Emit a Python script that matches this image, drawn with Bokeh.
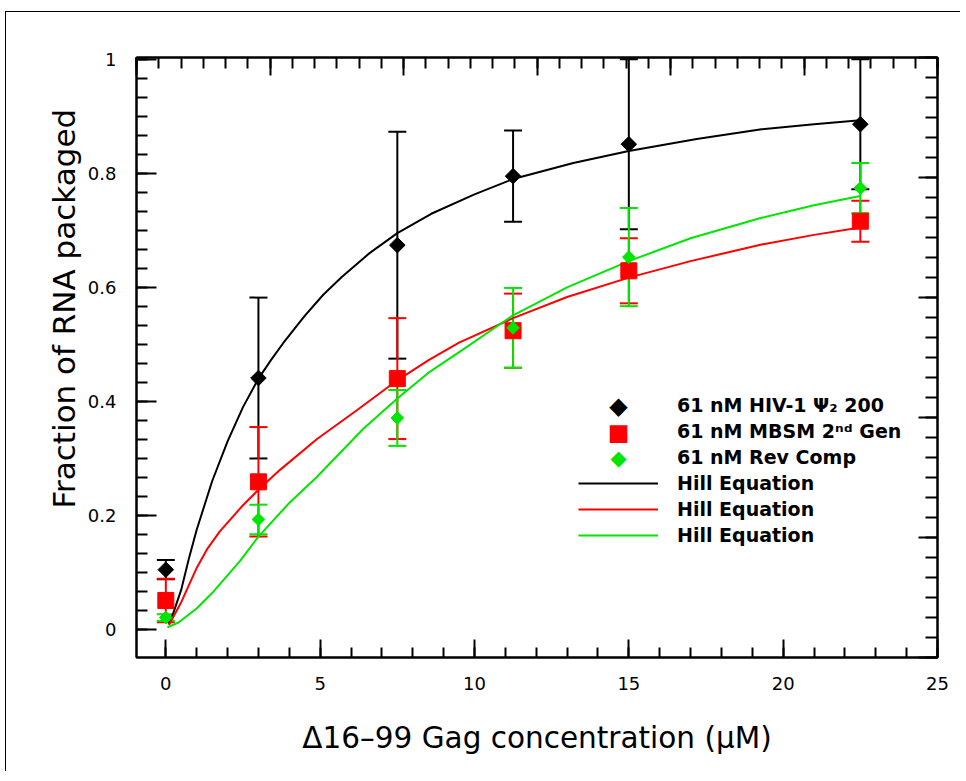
from bokeh.plotting import figure
from bokeh.models import (Range1d, LinearAxis, FixedTicker, Whisker, TeeHead,
                          ColumnDataSource, Legend, LegendItem, Title, Label)
from bokeh.embed import file_html
from bokeh.resources import INLINE

# ---------------- data ----------------
conc = [0, 3, 7.5, 11.25, 15, 22.5]

hiv_frac = [0.105, 0.441, 0.674, 0.795, 0.851, 0.886]
hiv_err = [0.017, 0.141, 0.199, 0.080, 0.149, 0.114]

mbsm_frac = [0.051, 0.259, 0.440, 0.524, 0.629, 0.716]
mbsm_err = [0.038, 0.096, 0.106, 0.065, 0.057, 0.036]

rev_frac = [0.021, 0.193, 0.371, 0.529, 0.653, 0.774]
rev_err = [0.006, 0.026, 0.049, 0.070, 0.086, 0.044]

# Hill-equation fit curves
hill_hiv_x = [0.1, 0.25, 0.5, 0.75, 1.0, 1.5, 2.0, 2.5, 3.0, 3.4, 3.8, 4.5, 5.1,
              5.7, 6.6, 7.5, 8.6, 10.0, 11.25, 13.2, 15.0, 17.2, 19.3, 21.0, 22.5]
hill_hiv_y = [0.010, 0.030, 0.070, 0.125, 0.175, 0.260, 0.330, 0.390, 0.440, 0.472,
              0.502, 0.550, 0.587, 0.618, 0.660, 0.695, 0.729, 0.763, 0.790, 0.818,
              0.839, 0.860, 0.877, 0.886, 0.893]

hill_mbsm_x = [0.1, 0.5, 1.0, 1.35, 1.75, 2.5, 3.0, 3.7, 4.9, 6.2, 7.5, 8.5, 9.5,
               11.25, 13.0, 15.0, 17.0, 19.3, 21.0, 22.5]
hill_mbsm_y = [0.008, 0.048, 0.108, 0.142, 0.172, 0.218, 0.245, 0.280, 0.334, 0.385,
               0.437, 0.472, 0.503, 0.546, 0.583, 0.617, 0.646, 0.675, 0.692, 0.705]

hill_rev_x = [0.05, 0.4, 1.0, 1.5, 2.4, 3.0, 4.0, 4.9, 6.4, 7.5, 8.5, 9.6, 11.25,
              13.0, 15.0, 17.0, 19.3, 21.0, 22.5]
hill_rev_y = [0.004, 0.012, 0.037, 0.064, 0.120, 0.163, 0.222, 0.268, 0.352, 0.405,
              0.450, 0.490, 0.551, 0.600, 0.646, 0.686, 0.722, 0.744, 0.760]

x_major = [0, 5, 10, 15, 20, 25]
x_minor = list(range(0, 26))
y_major = [0, 0.2, 0.4, 0.6, 0.8, 1.0]
y_minor = [i / 30 for i in range(0, 31)]
y_labels = {0: "0", 0.2: "0.2", 0.4: "0.4", 0.6: "0.6", 0.8: "0.8", 1.0: "1"}

labels = ["61 nM HIV-1 \u03a8\u2082 200", "61 nM MBSM 2\u207f\u1d48 Gen",
          "61 nM Rev Comp", "Hill Equation", "Hill Equation", "Hill Equation"]

BLACK = "#000000"
RED = "#ff0000"
GREEN = "#00e600"
FONT = "DejaVu Sans"

# ---------------- figure ----------------
p = figure(width=955, height=760, output_backend="svg", toolbar_location=None,
           x_range=Range1d(-0.95, 25.0), y_range=Range1d(-0.049, 1.003),
           min_border_left=130, min_border_right=24, min_border_top=45,
           min_border_bottom=115)
p.styles = {"border-left": "1px solid black", "border-top": "1px solid black",
            "margin-left": "5px", "margin-top": "11px"}
p.background_fill_color = "white"
p.border_fill_color = "white"
p.outline_line_color = BLACK
p.outline_line_width = 2
p.xgrid.visible = False
p.ygrid.visible = False

p.extra_x_ranges = {"top": Range1d(0, 6)}
p.extra_y_ranges = {"right": Range1d(0, 5)}


def style_axis(ax, major_len, minor_len):
    ax.axis_line_color = BLACK
    ax.axis_line_width = 2
    ax.major_tick_line_color = BLACK
    ax.major_tick_line_width = 2
    ax.minor_tick_line_color = BLACK
    ax.minor_tick_line_width = 2
    ax.major_tick_in = major_len
    ax.major_tick_out = 0
    ax.minor_tick_in = minor_len
    ax.minor_tick_out = 0
    ax.major_label_text_font = FONT
    ax.major_label_text_font_size = "18px"
    ax.major_label_text_color = BLACK


xa = p.xaxis[0]
xa.ticker = FixedTicker(ticks=x_major, minor_ticks=x_minor)
style_axis(xa, 18, 10)
xa.major_label_standoff = 19
xa.axis_label = "\u039416\u201399 Gag concentration (\u00b5M)"
xa.axis_label_text_font = FONT
xa.axis_label_text_font_size = "29.5px"
xa.axis_label_text_font_style = "normal"
xa.axis_label_text_color = BLACK
xa.axis_label_standoff = 28

ya = p.yaxis[0]
ya.ticker = FixedTicker(ticks=y_major, minor_ticks=y_minor)
ya.major_label_overrides = y_labels
style_axis(ya, 20, 11)
ya.major_label_standoff = 20

top_ax = LinearAxis(x_range_name="top",
                    ticker=FixedTicker(ticks=[0, 1, 2, 3, 4, 5, 6],
                                       minor_ticks=[i / 6 for i in range(0, 37)]))
style_axis(top_ax, 18, 11)
top_ax.major_label_text_font_size = "0px"
top_ax.major_label_text_alpha = 0
top_ax.major_label_standoff = 0
p.add_layout(top_ax, "above")

right_ax = LinearAxis(y_range_name="right",
                      ticker=FixedTicker(ticks=[0, 1, 2, 3, 4, 5],
                                         minor_ticks=[i / 6 for i in range(0, 31)]))
style_axis(right_ax, 19, 12)
right_ax.major_label_text_font_size = "0px"
right_ax.major_label_text_alpha = 0
right_ax.major_label_standoff = 0
p.add_layout(right_ax, "right")

ytitle = Title(text="Fraction of RNA packaged", align="left", offset=149,
               text_font=FONT, text_font_size="31px", text_font_style="normal",
               text_color=BLACK, standoff=6)
p.add_layout(ytitle, "left")

# ---------------- error bars ----------------
for yv, ev, col in [(hiv_frac, hiv_err, BLACK), (mbsm_frac, mbsm_err, RED),
                    (rev_frac, rev_err, GREEN)]:
    src = ColumnDataSource(dict(x=conc,
                                upper=[a + b for a, b in zip(yv, ev)],
                                lower=[a - b for a, b in zip(yv, ev)]))
    w = Whisker(source=src, base="x", upper="upper", lower="lower",
                line_color=col, line_width=2, level="underlay",
                upper_head=TeeHead(size=18, line_color=col, line_width=2),
                lower_head=TeeHead(size=18, line_color=col, line_width=2))
    p.add_layout(w)

# ---------------- fit curves ----------------
l_hiv = p.line(hill_hiv_x, hill_hiv_y, line_color=BLACK, line_width=2)
l_mbsm = p.line(hill_mbsm_x, hill_mbsm_y, line_color=RED, line_width=2)
l_rev = p.line(hill_rev_x, hill_rev_y, line_color=GREEN, line_width=2)

# ---------------- markers ----------------
s_hiv = p.scatter(conc, hiv_frac, marker="square", size=11, angle=0.785398,
                  fill_color=BLACK, line_color=BLACK)
s_mbsm = p.scatter(conc, mbsm_frac, marker="square", size=16,
                   fill_color=RED, line_color=RED)
s_rev = p.scatter(conc, rev_frac, marker="square", size=9, angle=0.785398,
                  fill_color=GREEN, line_color=GREEN)

# transparent twins: the legend rows for the points keep only their text,
# their symbols are drawn below as text glyphs at full size
t_hiv = p.scatter(conc, hiv_frac, marker="square", size=1, alpha=0)
t_mbsm = p.scatter(conc, mbsm_frac, marker="square", size=1, alpha=0)
t_rev = p.scatter(conc, rev_frac, marker="square", size=1, alpha=0)

legend = Legend(items=[LegendItem(label=labels[0], renderers=[t_hiv]),
                       LegendItem(label=labels[1], renderers=[t_mbsm]),
                       LegendItem(label=labels[2], renderers=[t_rev]),
                       LegendItem(label=labels[3], renderers=[l_hiv]),
                       LegendItem(label=labels[4], renderers=[l_mbsm]),
                       LegendItem(label=labels[5], renderers=[l_rev])],
                location=(442, 111), padding=0, margin=0, spacing=4,
                glyph_width=80, glyph_height=20, label_height=20,
                label_standoff=19, border_line_color=None,
                background_fill_alpha=0,
                label_text_font=FONT, label_text_font_size="19px",
                label_text_font_style="bold", label_text_color=BLACK)
p.add_layout(legend)

# legend symbols (screen units, relative to the plot frame)
for sym, col, fs, yy in [("\u25c6", BLACK, "24px", 252), ("\u25a0", RED, "23px", 226),
                         ("\u25c6", GREEN, "21px", 200)]:
    p.add_layout(Label(x=482, y=yy, x_units="screen", y_units="screen", text=sym,
                       text_color=col, text_font=FONT, text_font_size=fs,
                       text_align="center", text_baseline="middle"))

open("out.html", "w").write(file_html(p, INLINE))
